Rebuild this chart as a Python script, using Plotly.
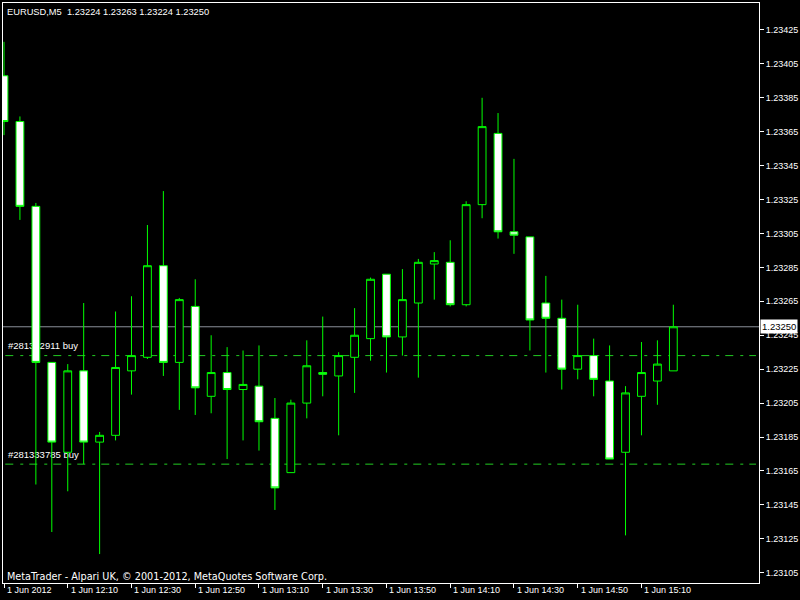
import plotly.graph_objects as go

# ---- data (EURUSD M5, 1 Jun 2012) ----
bar_index = list(range(43))
open_ = [1.23398, 1.23371, 1.23321, 1.23229, 1.23176, 1.23224, 1.23182, 1.23186, 1.23224, 1.23232,
         1.23286, 1.23229, 1.23262, 1.23209, 1.23223, 1.23213, 1.23215, 1.23196, 1.23164, 1.23205,
         1.23223, 1.23221, 1.23232, 1.23243, 1.23281, 1.23244, 1.23264, 1.23287, 1.23288, 1.23263,
         1.23322, 1.23364, 1.23306, 1.23303, 1.23264, 1.23255, 1.23225, 1.23233, 1.23218, 1.23176,
         1.23209, 1.23218, 1.23224]
high = [1.23418, 1.23374, 1.23323, 1.23229, 1.23228, 1.23264, 1.23188, 1.23259, 1.23268, 1.23310,
        1.23330, 1.23267, 1.23278, 1.23245, 1.23238, 1.23236, 1.23239, 1.23208, 1.23207, 1.23242,
        1.23256, 1.23235, 1.23261, 1.23279, 1.23281, 1.23284, 1.23290, 1.23294, 1.23301, 1.23324,
        1.23385, 1.23376, 1.23349, 1.23303, 1.23280, 1.23266, 1.23263, 1.23243, 1.23239, 1.23215,
        1.23241, 1.23242, 1.23263]
low = [1.23363, 1.23313, 1.23157, 1.23129, 1.23153, 1.23169, 1.23116, 1.23183, 1.23210, 1.23231,
       1.23221, 1.23201, 1.23198, 1.23199, 1.23172, 1.23183, 1.23177, 1.23142, 1.23164, 1.23196,
       1.23209, 1.23186, 1.23211, 1.23230, 1.23223, 1.23233, 1.23220, 1.23266, 1.23262, 1.23262,
       1.23314, 1.23302, 1.23293, 1.23236, 1.23223, 1.23213, 1.23219, 1.23209, 1.23172, 1.23127,
       1.23186, 1.23204, 1.23224]
close = [1.23371, 1.23321, 1.23229, 1.23182, 1.23224, 1.23182, 1.23186, 1.23226, 1.23233, 1.23286,
         1.23229, 1.23266, 1.23214, 1.23223, 1.23213, 1.23216, 1.23194, 1.23155, 1.23205, 1.23227,
         1.23222, 1.23233, 1.23245, 1.23278, 1.23244, 1.23266, 1.23288, 1.23289, 1.23263, 1.23322,
         1.23368, 1.23306, 1.23304, 1.23254, 1.23255, 1.23225, 1.23233, 1.23219, 1.23172, 1.23211,
         1.23223, 1.23228, 1.23250]

time_tick_index = [0, 4, 8, 12, 16, 20, 24, 28, 32, 36, 40]
time_tick_labels = ["1 Jun 2012", "1 Jun 12:10", "1 Jun 12:30", "1 Jun 12:50", "1 Jun 13:10",
                    "1 Jun 13:30", "1 Jun 13:50", "1 Jun 14:10", "1 Jun 14:30", "1 Jun 14:50",
                    "1 Jun 15:10"]
price_ticks = [1.23105, 1.23125, 1.23145, 1.23165, 1.23185, 1.23205, 1.23225, 1.23245, 1.23265,
               1.23285, 1.23305, 1.23325, 1.23345, 1.23365, 1.23385, 1.23405, 1.23425]
price_tick_labels = ["%.5f" % p for p in price_ticks]

bid_price = 1.23250
orders = [("#281332911 buy", 1.23233), ("#281333785 buy", 1.23169)]
title_text = "EURUSD,M5  1.23224 1.23263 1.23224 1.23250"
footer_text = "MetaTrader - Alpari UK, \u00a9 2001-2012, MetaQuotes Software Corp."

FONT = "Liberation Sans, Arial, sans-serif"
FONT_WIDE = "DejaVu Sans, Verdana, sans-serif"
GREEN = "#00ff00"

fig = go.Figure()
fig.add_trace(go.Candlestick(
    x=bar_index, open=open_, high=high, low=low, close=close,
    increasing=dict(line=dict(color=GREEN, width=1), fillcolor="black"),
    decreasing=dict(line=dict(color=GREEN, width=1), fillcolor="white"),
    whiskerwidth=0, hoverinfo="skip", showlegend=False,
))

shapes = [dict(type="line", xref="paper", x0=0, x1=1, yref="y", y0=bid_price, y1=bid_price,
               line=dict(color="#8a8f99", width=1), layer="below")]
for label, price in orders:
    shapes.append(dict(type="line", xref="paper", x0=0.003, x1=0.996, yref="y", y0=price, y1=price,
                       line=dict(color="#22cc22", width=1, dash="8px,7px,3px,6px"), layer="below",
                       label=dict(text="\u00a0" + label, textposition="start", xanchor="left",
                                  yanchor="bottom", padding=5,
                                  font=dict(color="white", size=9.5, family=FONT))))

annotations = []
for idx, lab in zip(time_tick_index, time_tick_labels):
    annotations.append(dict(x=idx, xref="x", y=0, yref="paper", text=lab, showarrow=False,
                            xanchor="left", yanchor="middle", xshift=1, yshift=-7,
                            font=dict(color="white", size=9, family=FONT)))
annotations.append(dict(x=0, xref="paper", y=1, yref="paper", text=title_text, showarrow=False,
                        xanchor="left", yanchor="middle", xshift=2, yshift=-9,
                        font=dict(color="white", size=9.3, family=FONT)))
annotations.append(dict(x=0, xref="paper", y=0, yref="paper", text=footer_text, showarrow=False,
                        xanchor="left", yanchor="middle", xshift=2, yshift=7,
                        font=dict(color="white", size=9.7, family=FONT_WIDE)))
annotations.append(dict(x=1, xref="paper", y=bid_price, yref="y", text="1.23250", showarrow=False,
                        xanchor="left", yanchor="middle", xshift=1, bgcolor="white", borderpad=1,
                        font=dict(color="black", size=9.5, family=FONT)))

fig.update_layout(
    width=800, height=600,
    margin=dict(l=2, r=39, t=2, b=17),
    paper_bgcolor="black", plot_bgcolor="black",
    boxgap=0.3,
    shapes=shapes, annotations=annotations,
    showlegend=False,
    xaxis=dict(range=[-0.0625, 47.375], rangeslider=dict(visible=False), showgrid=False,
               zeroline=False, tickmode="array", tickvals=time_tick_index, showticklabels=False,
               ticks="outside", ticklen=4, tickcolor="white", showline=True, linecolor="white",
               linewidth=1, mirror=True),
    yaxis=dict(range=[1.2309893, 1.2344089], side="right", showgrid=False, zeroline=False,
               tickmode="array", tickvals=price_ticks, ticktext=price_tick_labels,
               ticks="outside", ticklen=4, tickcolor="white", showline=True, linecolor="white",
               linewidth=1, mirror=True, tickfont=dict(color="white", size=9, family=FONT)),
)

fig.write_html("out.html", config={"displayModeBar": False},
               post_script="document.body.style.margin='0';document.body.style.background='black';")
